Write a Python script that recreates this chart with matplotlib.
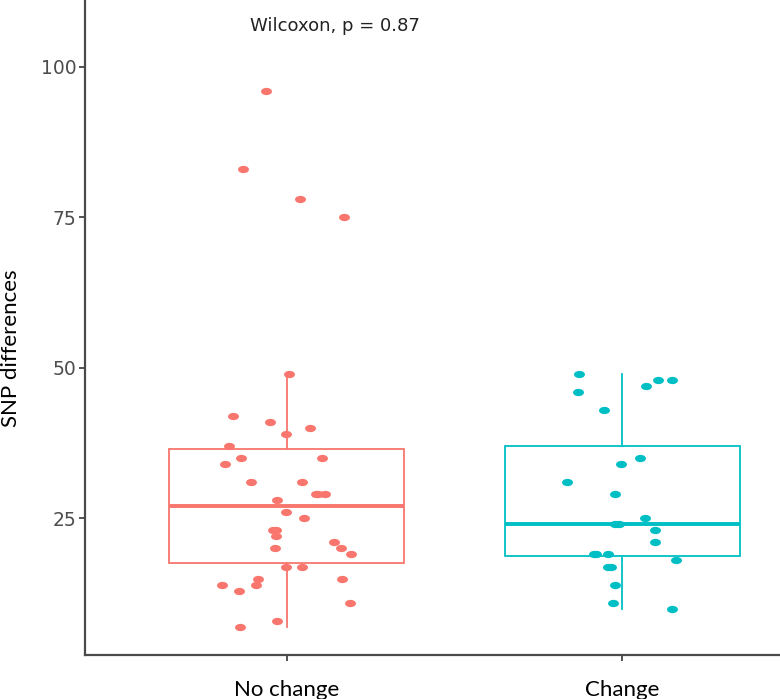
import matplotlib
matplotlib.use("Agg")
import matplotlib.pyplot as plt
from matplotlib.path import Path
from matplotlib.transforms import Affine2D

# SNP differences per group
groups = ["No change", "Change"]
no_change = [96, 83, 78, 75, 49, 42, 41, 40, 39, 37, 35, 35, 34, 31, 31, 29, 29, 29,
             28, 26, 25, 23, 23, 22, 21, 20, 20, 19, 17, 17, 15, 15, 14, 14, 13, 11, 8, 7]
change = [49, 46, 48, 48, 47, 43, 35, 34, 31, 29, 25, 24, 24, 23, 21, 19, 19, 19,
          18, 17, 17, 14, 11, 10]
p_label = "Wilcoxon, p = 0.87"

# horizontal jitter (category units) as seen in the picture
jit_no_change = [-0.062, -0.131, 0.041, 0.172, 0.006, -0.160, -0.049, 0.069, -0.002,
                 -0.170, -0.136, 0.105, -0.183, -0.105, 0.046, 0.089, 0.113, 0.095,
                 -0.027, -0.001, 0.051, -0.032, -0.040, -0.032, 0.140, -0.034, 0.162,
                 0.191, -0.001, 0.047, -0.084, 0.165, -0.193, -0.092, -0.143, 0.190,
                 -0.028, -0.140]
jit_change = [-0.128, -0.131, 0.105, 0.147, 0.071, -0.054, 0.051, -0.005, -0.166,
              -0.022, 0.068, -0.021, -0.009, 0.098, 0.098, -0.086, -0.078, -0.044,
              0.158, -0.042, -0.033, -0.021, -0.029, 0.147]

colors = ["#F8766D", "#00BFC4"]
W, H = 780, 699

fig = plt.figure(figsize=(W / 100, H / 100), dpi=100)
# axes runs past the right edge like the cropped original
ax = fig.add_axes([85 / W, 44 / H, (824 - 85) / W, 655 / H])

data = [no_change, change]
jits = [jit_no_change, jit_change]
for i, (vals, col) in enumerate(zip(data, colors)):
    ax.boxplot([vals], positions=[i + 1], widths=0.7, showfliers=False,
               patch_artist=True,
               boxprops=dict(facecolor="white", edgecolor=col, linewidth=1.3),
               whiskerprops=dict(color=col, linewidth=1.3),
               capprops=dict(linewidth=0),
               medianprops=dict(color=col, linewidth=2.8),
               zorder=2)

# ggplot points look squashed (the picture was stretched sideways)
ell = Path.unit_circle().transformed(Affine2D().scale(1.5, 1.0))
for i, (vals, jit, col) in enumerate(zip(data, jits, colors)):
    xs = [i + 1 + j for j in jit]
    ax.scatter(xs, vals, s=62, marker=ell, color=col, linewidths=0, zorder=3)

ax.set_xlim(0.4, 2.6)
ax.set_ylim(2.3, 111.1)
ax.set_yticks([25, 50, 75, 100])
ax.set_yticklabels(["25", "50", "75", "100"], fontsize=13.5, color="#4D4D4D",
                   family="DejaVu Sans")
ax.set_xticks([1, 2])
ax.set_xticklabels(groups, fontsize=16, family="Lato", color="black")
ax.tick_params(axis="y", length=4, width=1.2, color="#333333", pad=2)
ax.tick_params(axis="x", length=4, width=1.2, color="#333333", pad=14)
for s in ("top", "right"):
    ax.spines[s].set_visible(False)
for s in ("left", "bottom"):
    ax.spines[s].set_color("#4A4A4A")
    ax.spines[s].set_linewidth(1.6)

ax.text(0.8925, 106.0, p_label, fontsize=13, family="DejaVu Sans",
        color="#222222", ha="left", va="baseline")

fig.text(11 / W, 1 - 348 / H, "SNP differences", rotation=90, fontsize=16,
         family="Lato", ha="center", va="center")

fig.savefig("out.png", dpi=100)
